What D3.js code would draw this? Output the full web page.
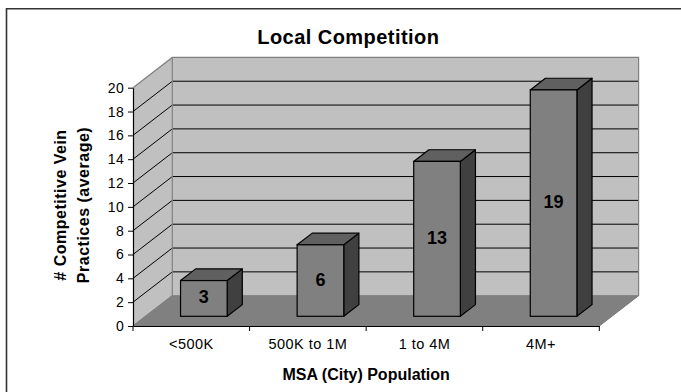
<!DOCTYPE html>
<html><head><meta charset="utf-8">
<script src="https://cdn.jsdelivr.net/npm/d3@7"></script>
<style>
html,body{margin:0;padding:0;background:#fff;}
svg{display:block;font-family:"Liberation Sans",Arial,sans-serif;}
</style></head><body>
<svg id="c" width="681" height="392"></svg>
<script>
// ---- data ----
const categories = ["<500K", "500K to 1M", "1 to 4M", "4M+"];
const values = [3, 6, 13, 19];
const valueLabels = ["3", "6", "13", "19"];
const yTicks = [0, 2, 4, 6, 8, 10, 12, 14, 16, 18, 20];
const chartTitle = "Local Competition";
const xTitle = "MSA (City) Population";
const yTitleLines = ["# Competitive Vein", "Practices (average)"];

// ---- layout ----
const svg = d3.select("#c");
const front = {x0: 133, x1: 599.3, yb: 326, yt: 87.7};
const depth = {dx: 39.3, dy: -30.3};
const barF0 = 0.32, barF1 = 0.705;

const x = d3.scaleBand().domain(categories).range([front.x0, front.x1]).padding(0);
const y = d3.scaleLinear().domain([0, 20]).range([front.yb, front.yt]);
const barW = x.bandwidth() * 0.4;
const line = d3.line();

// outer frame
svg.append("path")
  .attr("d", "M6.5,392V8.7H681")
  .attr("fill", "none").attr("stroke", "#333").attr("stroke-width", 1.6);

const yMax = y.domain()[1], yMin = y.domain()[0];
const bx0 = front.x0 + depth.dx, bx1 = front.x1 + depth.dx;

// left wall
svg.append("path")
  .attr("d", line([[front.x0, y(yMax)], [bx0, y(yMax) + depth.dy], [bx0, y(yMin) + depth.dy], [front.x0, y(yMin)]]) + "Z")
  .attr("fill", "#c0c0c0").attr("stroke", "none");
// back wall
svg.append("rect")
  .attr("x", bx0).attr("y", y(yMax) + depth.dy)
  .attr("width", bx1 - bx0).attr("height", y(yMin) - y(yMax))
  .attr("fill", "#c0c0c0").attr("stroke", "none");
// floor
svg.append("path")
  .attr("d", line([[front.x0, y(yMin)], [front.x1, y(yMin)], [bx1, y(yMin) + depth.dy], [bx0, y(yMin) + depth.dy]]) + "Z")
  .attr("fill", "#808080").attr("stroke", "#7a7a7a").attr("stroke-width", 1);

// gridlines
svg.append("g").selectAll("path")
  .data(yTicks.filter(v => v > yMin && v < yMax))
  .join("path")
  .attr("d", v => line([[front.x0, y(v)], [bx0, y(v) + depth.dy], [bx1, y(v) + depth.dy]]))
  .attr("fill", "none").attr("stroke", "#000").attr("stroke-width", 1);

// wall borders
svg.append("path")
  .attr("d", line([[front.x0, y(yMax)], [bx0, y(yMax) + depth.dy], [bx1, y(yMax) + depth.dy], [bx1, y(yMin) + depth.dy]]))
  .attr("fill", "none").attr("stroke", "#808080").attr("stroke-width", 1.2);
svg.append("path")
  .attr("d", line([[bx0, y(yMax) + depth.dy], [bx0, y(yMin) + depth.dy], [front.x0, y(yMin)]]))
  .attr("fill", "none").attr("stroke", "#808080").attr("stroke-width", 1.2);

// y axis
const gy = svg.append("g").attr("transform", `translate(${front.x0},0)`)
  .call(d3.axisLeft(y).tickValues(yTicks).tickSize(5).tickSizeOuter(0).tickPadding(4).tickFormat(d3.format("d")));
gy.select(".domain").attr("stroke", "#000").attr("stroke-width", 1.2);
gy.selectAll(".tick line").attr("stroke", "#000");
gy.selectAll(".tick text").attr("font-family", "Liberation Sans, Arial, sans-serif")
  .attr("font-size", 14).attr("fill", "#000").attr("letter-spacing", 0.3);

// x axis
const gx = svg.append("g").attr("transform", `translate(0,${front.yb})`)
  .call(d3.axisBottom(x).tickSize(0).tickSizeOuter(0).tickPadding(12.7));
gx.select(".domain").attr("stroke", "#000").attr("stroke-width", 1.2);
gx.selectAll(".tick text").attr("font-family", "Liberation Sans, Arial, sans-serif")
  .attr("font-size", 14.5).attr("fill", "#000").attr("letter-spacing", 0.45);
// category separators
const sepX = categories.map(c => x(c)).concat([x(categories[categories.length - 1]) + x.bandwidth()]);
gx.append("g").selectAll("line").data(sepX).join("line")
  .attr("x1", d => d).attr("x2", d => d).attr("y1", 0).attr("y2", 5)
  .attr("stroke", "#000").attr("stroke-width", 1);

// bars
const ddx = depth.dx * (barF1 - barF0), ddy = depth.dy * (barF1 - barF0);
const bars = svg.append("g").selectAll("g").data(values.map((v, i) => ({v, c: categories[i], lab: valueLabels[i]}))).join("g");
bars.each(function(d) {
  const g = d3.select(this);
  const cx = x(d.c) + x.bandwidth() / 2 + depth.dx * barF0;
  const l = cx - barW / 2, r = cx + barW / 2;
  const top = y(d.v) + depth.dy * barF0, bot = y(0) + depth.dy * barF0;
  g.append("path")
    .attr("d", line([[r, top], [r + ddx, top + ddy], [r + ddx, bot + ddy], [r, bot]]) + "Z")
    .attr("fill", "#404040").attr("stroke", "#000").attr("stroke-width", 1.2).attr("stroke-linejoin", "round");
  g.append("path")
    .attr("d", line([[l, top], [r, top], [r + ddx, top + ddy], [l + ddx, top + ddy]]) + "Z")
    .attr("fill", "#606060").attr("stroke", "#000").attr("stroke-width", 1.2).attr("stroke-linejoin", "round");
  g.append("rect")
    .attr("x", l).attr("y", top).attr("width", r - l).attr("height", bot - top)
    .attr("fill", "#808080").attr("stroke", "#000").attr("stroke-width", 1.2);
  g.append("text")
    .attr("x", cx).attr("y", (top + bot) / 2 - 1.5).attr("dy", "0.36em")
    .attr("text-anchor", "middle").attr("font-weight", "bold").attr("font-size", 18)
    .attr("fill", "#000").text(d.lab);
});

// titles
svg.append("text").attr("x", 348.3).attr("y", 43.7).attr("text-anchor", "middle")
  .attr("font-weight", "bold").attr("font-size", 20).attr("letter-spacing", 0.45).text(chartTitle);
svg.append("text").attr("x", (front.x0 + front.x1) / 2).attr("y", 380).attr("text-anchor", "middle")
  .attr("font-weight", "bold").attr("font-size", 16).text(xTitle);
const ytCenter = 205;
svg.append("g").selectAll("text").data(yTitleLines).join("text")
  .attr("transform", (d, i) => `translate(${[65.5, 88.5][i]},${ytCenter}) rotate(-90)`)
  .attr("text-anchor", "middle").attr("font-weight", "bold").attr("font-size", 16)
  .attr("letter-spacing", 0.5).text(d => d);
</script>
</body></html>
